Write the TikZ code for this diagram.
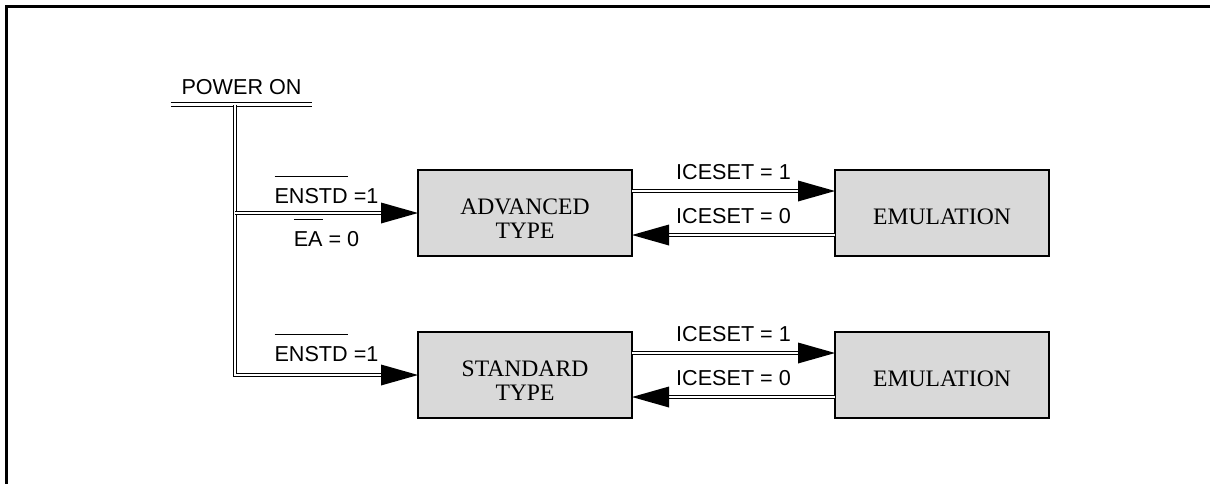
\documentclass[tikz,border=0pt]{standalone}
\usepackage{fontspec}
\setmainfont{Liberation Serif}
\setsansfont{Liberation Sans}
\usetikzlibrary{positioning,calc,decorations.markings}

\definecolor{boxgray}{HTML}{D9D9D9}

% high bar over an active-low signal name
\newcommand{\lowact}[1]{\setbox0\hbox{#1}\rlap{\rule[\dimexpr\ht0+5.5pt\relax]{\wd0}{0.6pt}}\box0\relax}

\begin{document}
\begin{tikzpicture}[
    x=0.5pt, y=-0.5pt,
    mode/.style={rectangle, draw, line width=1.35pt, fill=boxgray, minimum width=107pt, minimum height=43pt, outer sep=0pt, align=center, font=\fontsize{11.8}{12}\selectfont},
    twoline/.style={text height=25pt, text depth=0pt},
    oneline/.style={text height=11.5pt, text depth=0pt},
    dbl/.style={draw, double, line width=0.5pt, double distance=1.3pt},
    dblarrow/.style={dbl, shorten >=8pt, postaction={decorate},
        decoration={markings, mark=at position 1 with {\fill[shorten >=0pt] (0pt,0pt) -- (-18.5pt,5.25pt) -- (-18.5pt,-5.25pt) -- cycle;}}},
    sig/.style={anchor=base, inner sep=0pt, font=\sffamily\fontsize{10.8}{12}\selectfont}
]
\useasboundingbox (0,0) rectangle (1210,483);

% Frame (open to the right and bottom)
\draw[line width=1.35pt] (1212,6.7) -- (6.7,6.7) -- (6.7,485);

% Power-on bus
\node[sig, anchor=south, inner ysep=4.75pt, minimum width=70.5pt] (pwr) at (241.5,104.5) {POWER ON};
\draw[dbl] (pwr.south west) -- (pwr.south east);
\coordinate (bus) at (235,104.5);

% Mode boxes
\node[mode, twoline] (adv) at (525,213) {ADVANCED\\TYPE};
\node[mode, oneline, right=101.5pt of adv] (emuA) {EMULATION};
\node[mode, twoline, below=38pt of adv] (std) {STANDARD\\TYPE};
\node[mode, oneline, right=101.5pt of std] (emuS) {EMULATION};

% Power-on branches
\draw[dblarrow] (bus) |- (std.west)
    node[sig, pos=0.75, yshift=6.75pt] {\lowact{ENSTD} =1};
\draw[dblarrow] (bus |- adv.west) -- (adv.west)
    node[sig, midway, yshift=5pt] {\lowact{ENSTD} =1}
    node[sig, midway, yshift=-16.5pt] {\lowact{EA} = 0};

% Emulation switching
\draw[dblarrow] ([yshift=11pt]adv.east) -- ([yshift=11pt]emuA.west)
    node[sig, midway, yshift=6pt] {ICESET = 1};
\draw[dblarrow] ([yshift=-11pt]emuA.west) -- ([yshift=-11pt]adv.east)
    node[sig, midway, yshift=6pt] {ICESET = 0};
\draw[dblarrow] ([yshift=11pt]std.east) -- ([yshift=11pt]emuS.west)
    node[sig, midway, yshift=6pt] {ICESET = 1};
\draw[dblarrow] ([yshift=-11pt]emuS.west) -- ([yshift=-11pt]std.east)
    node[sig, midway, yshift=6pt] {ICESET = 0};

\end{tikzpicture}
\end{document}
